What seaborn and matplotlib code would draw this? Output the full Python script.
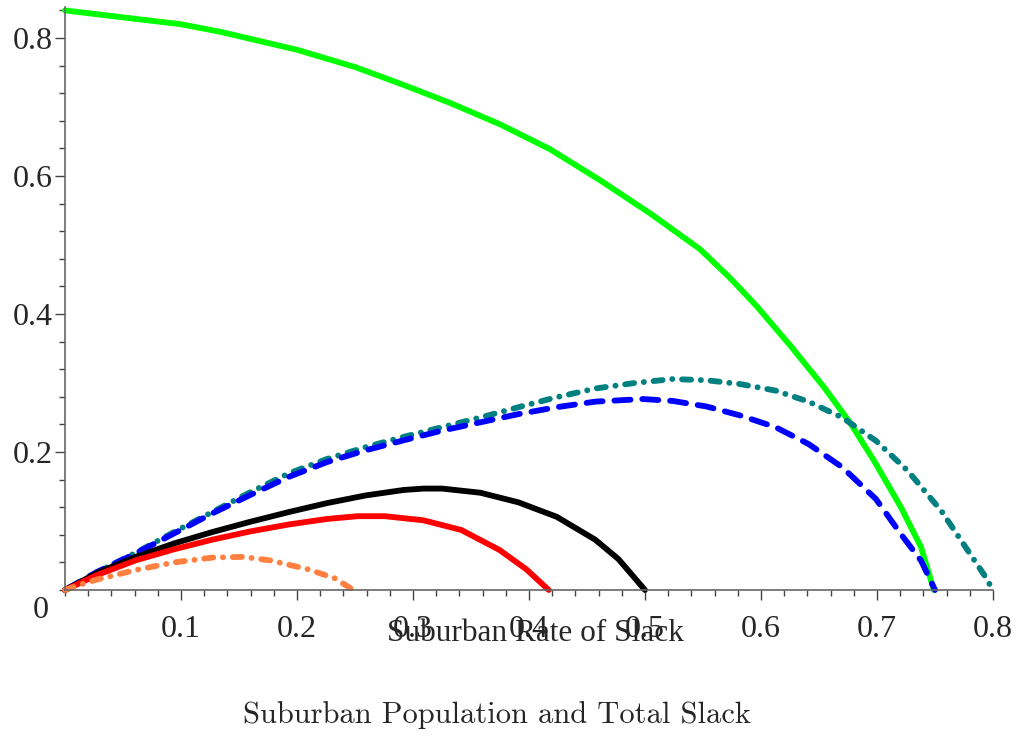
import numpy as np
import pandas as pd
import matplotlib
matplotlib.use("Agg")
import matplotlib.pyplot as plt
import seaborn as sns
from matplotlib.ticker import MultipleLocator, FixedLocator

# data
green_x = [0.0, 0.05, 0.10, 0.134, 0.20, 0.25, 0.2888, 0.3319, 0.375, 0.418, 0.4612, 0.5043,
           0.5474, 0.5735, 0.5965, 0.6254, 0.6543, 0.6774, 0.6976, 0.7206, 0.738, 0.749]
green_y = [0.840, 0.830, 0.820, 0.809, 0.783, 0.758, 0.734, 0.706, 0.675, 0.639, 0.594, 0.546,
           0.494, 0.452, 0.411, 0.354, 0.294, 0.241, 0.187, 0.120, 0.062, 0.0]

teal_x = [0.0, 0.028, 0.061, 0.094, 0.127, 0.160, 0.193, 0.226, 0.259, 0.292, 0.325, 0.358,
          0.391, 0.424, 0.457, 0.490, 0.524, 0.553, 0.582, 0.6125, 0.641, 0.670, 0.699,
          0.7264, 0.7553, 0.7784, 0.7928, 0.80]
teal_y = [0.0, 0.026, 0.054, 0.084, 0.113, 0.142, 0.169, 0.190, 0.207, 0.222, 0.236, 0.250,
          0.265, 0.2795, 0.292, 0.2998, 0.3058, 0.304, 0.2985, 0.289, 0.273, 0.250, 0.2164,
          0.173, 0.115, 0.057, 0.0208, 0.0]

blue_x = [0.0, 0.028, 0.061, 0.094, 0.127, 0.160, 0.193, 0.226, 0.259, 0.292, 0.325, 0.358,
          0.391, 0.424, 0.457, 0.4983, 0.524, 0.553, 0.582, 0.6125, 0.641, 0.670, 0.699,
          0.7206, 0.738, 0.75]
blue_y = [0.0, 0.0265, 0.053, 0.082, 0.111, 0.138, 0.164, 0.1855, 0.2024, 0.217, 0.231, 0.243,
          0.255, 0.265, 0.273, 0.2768, 0.274, 0.266, 0.253, 0.236, 0.2116, 0.178, 0.132,
          0.081, 0.0425, 0.0]

black_x = [0.0, 0.028, 0.061, 0.094, 0.127, 0.160, 0.193, 0.226, 0.259, 0.292, 0.309, 0.325,
           0.358, 0.391, 0.424, 0.457, 0.477, 0.50]
black_y = [0.0, 0.025, 0.048, 0.0675, 0.084, 0.099, 0.113, 0.126, 0.137, 0.145, 0.147, 0.147,
           0.141, 0.127, 0.106, 0.073, 0.045, 0.0]

red_x = [0.0, 0.028, 0.061, 0.094, 0.127, 0.160, 0.193, 0.226, 0.2525, 0.2756, 0.309, 0.3416,
         0.3746, 0.3977, 0.417]
red_y = [0.0, 0.022, 0.043, 0.059, 0.073, 0.085, 0.095, 0.103, 0.107, 0.107, 0.101, 0.087,
         0.058, 0.030, 0.0]

orange_x = [0.0, 0.0116, 0.028, 0.061, 0.094, 0.127, 0.1535, 0.1766, 0.2096, 0.2327, 0.2485]
orange_y = [0.0, 0.007, 0.0154, 0.029, 0.040, 0.047, 0.048, 0.043, 0.030, 0.0169, 0.0]

x_ticks = [0.1, 0.2, 0.3, 0.4, 0.5, 0.6, 0.7, 0.8]
y_ticks = [0.2, 0.4, 0.6, 0.8]

sns.set_style("white")
plt.rcParams["font.family"] = ["Liberation Serif", "DejaVu Serif"]
plt.rcParams["lines.scale_dashes"] = False

fig = plt.figure(figsize=(10.18, 7.4), dpi=100)
ax = fig.add_axes([65 / 1018, 150 / 740, 928 / 1018, 583 / 740])

lw = 4.2
dashdot = (0, (6.5, 7, 0.1, 7))
curves = [
    (green_x, green_y, "#00ff00", "-"),
    (teal_x, teal_y, "#008080", dashdot),
    (blue_x, blue_y, "#0000ff", (0, (11.6, 8.5))),
    (black_x, black_y, "#000000", "-"),
    (red_x, red_y, "#ff0000", "-"),
    (orange_x, orange_y, "#ff8040", dashdot),
]
for xs, ys, col, ls in curves:
    df = pd.DataFrame({"x": xs, "y": ys})
    sns.lineplot(data=df, x="x", y="y", color=col, sort=False, ax=ax, linewidth=lw)
    line = ax.lines[-1]
    line.set_linestyle(ls)
    line.set_dash_capstyle("round")
    line.set_solid_capstyle("round")
    line.set_solid_joinstyle("round")
    line.set_clip_on(False)

ax.set_xlim(0, 0.8)
ax.set_ylim(0, 0.845)

for s in ["top", "right"]:
    ax.spines[s].set_visible(False)
for s in ["left", "bottom"]:
    ax.spines[s].set_color("#666666")
    ax.spines[s].set_linewidth(1.2)

ax.xaxis.set_major_locator(FixedLocator(x_ticks))
ax.yaxis.set_major_locator(FixedLocator(y_ticks))
ax.xaxis.set_minor_locator(MultipleLocator(0.02))
ax.yaxis.set_minor_locator(MultipleLocator(0.04))
ax.tick_params(axis="both", which="both", direction="out", color="#444444", width=1.0,
               bottom=True, left=True)
ax.tick_params(axis="x", which="major", length=7, pad=11, labelsize=23)
ax.tick_params(axis="y", which="major", length=7, pad=2, labelsize=23)
ax.tick_params(axis="both", which="minor", length=4)

ax.annotate("0", xy=(0, 0), xycoords="data", xytext=(-24, -20), textcoords="offset pixels",
            ha="center", va="center", fontsize=23)

ax.set_xlabel("Suburban Rate of Slack", fontsize=22.5, va="center")
ax.xaxis.set_label_coords(0.507, -0.074)
ax.set_ylabel("")

fig.text(0.488, 0.034, "Suburban Population and Total Slack", ha="center", va="center",
         fontsize=22, family="cmr10")

fig.savefig("out.png", dpi=100)
